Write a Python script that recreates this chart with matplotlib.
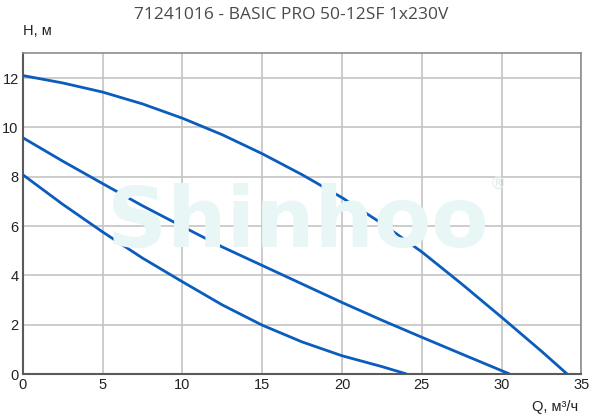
import matplotlib
import matplotlib.pyplot as plt

matplotlib.use('Agg')

# curves: flow Q (m3/h) vs head H (m)
q_high = [0, 2.5, 5, 7.5, 10, 12.5, 15, 17.5, 20, 22.5, 25, 27.5, 30, 32.5, 34.1]
h_high = [12.1, 11.8, 11.43, 10.95, 10.37, 9.7, 8.93, 8.08, 7.15, 6.1, 4.95, 3.65, 2.3, 0.92, 0]

q_mid = [0, 2.5, 5, 7.5, 10, 12.5, 15, 17.5, 20, 22.5, 25, 27.5, 30.5]
h_mid = [9.58, 8.63, 7.72, 6.82, 5.98, 5.15, 4.4, 3.65, 2.9, 2.18, 1.49, 0.81, 0]

q_low = [0, 2.5, 5, 7.5, 10, 12.5, 15, 17.5, 20, 22.5, 24.05]
h_low = [8.08, 6.88, 5.76, 4.7, 3.74, 2.8, 1.98, 1.3, 0.74, 0.3, 0]

x_ticks = [0, 5, 10, 15, 20, 25, 30, 35]
y_ticks = [0, 2, 4, 6, 8, 10, 12]

title = '71241016 - BASIC PRO 50-12SF 1x230V'
line_color = '#0a5cbd'

fig = plt.figure(figsize=(6.03, 4.2), dpi=100)
ax = fig.add_axes([0.0378, 0.1095, 0.9265, 0.7635])

for q, h in ((q_high, h_high), (q_mid, h_mid), (q_low, h_low)):
    ax.plot(q, h, color=line_color, lw=2.0, solid_capstyle='butt', zorder=3)

ax.set_xlim(0, 35)
ax.set_ylim(0, 13)
ax.set_xticks(x_ticks)
ax.set_yticks(y_ticks)
ax.set_axisbelow(True)
ax.grid(True, color='#c4c4c4', lw=1.2)
ax.tick_params(length=0, labelsize=10.5, pad=3, colors='#222222')
for lbl in ax.get_xticklabels() + ax.get_yticklabels():
    lbl.set_fontfamily('Liberation Sans')

for side in ('left', 'bottom'):
    ax.spines[side].set_color('#5a5a5a')
    ax.spines[side].set_linewidth(1.5)
for side in ('top', 'right'):
    ax.spines[side].set_color('#8c8c8c')
    ax.spines[side].set_linewidth(1.2)

# watermark
fig.text(298 / 603, 1 - 247 / 420, 'Shinhoo', fontsize=60, fontweight='bold',
         family='DejaVu Sans', color='#e8f6f6', ha='center', va='baseline', zorder=0.1)
fig.text(498 / 603, 1 - 184 / 420, '®', fontsize=12, color='#e4eeee',
         ha='center', va='center', zorder=0.1)

fig.text(291 / 603, 1 - 15 / 420, title, fontsize=12.5, family='Open Sans',
         color='#4a4a4a', ha='center', va='center')
fig.text(23 / 603, 1 - 31 / 420, 'H, м', fontsize=10.5, family='Liberation Sans',
         color='#222222', ha='left', va='center')
fig.text(578 / 603, 1 - 407 / 420, 'Q, м³/ч', fontsize=10.5, family='Liberation Sans',
         color='#222222', ha='right', va='center')

fig.savefig('out.png', dpi=100)
